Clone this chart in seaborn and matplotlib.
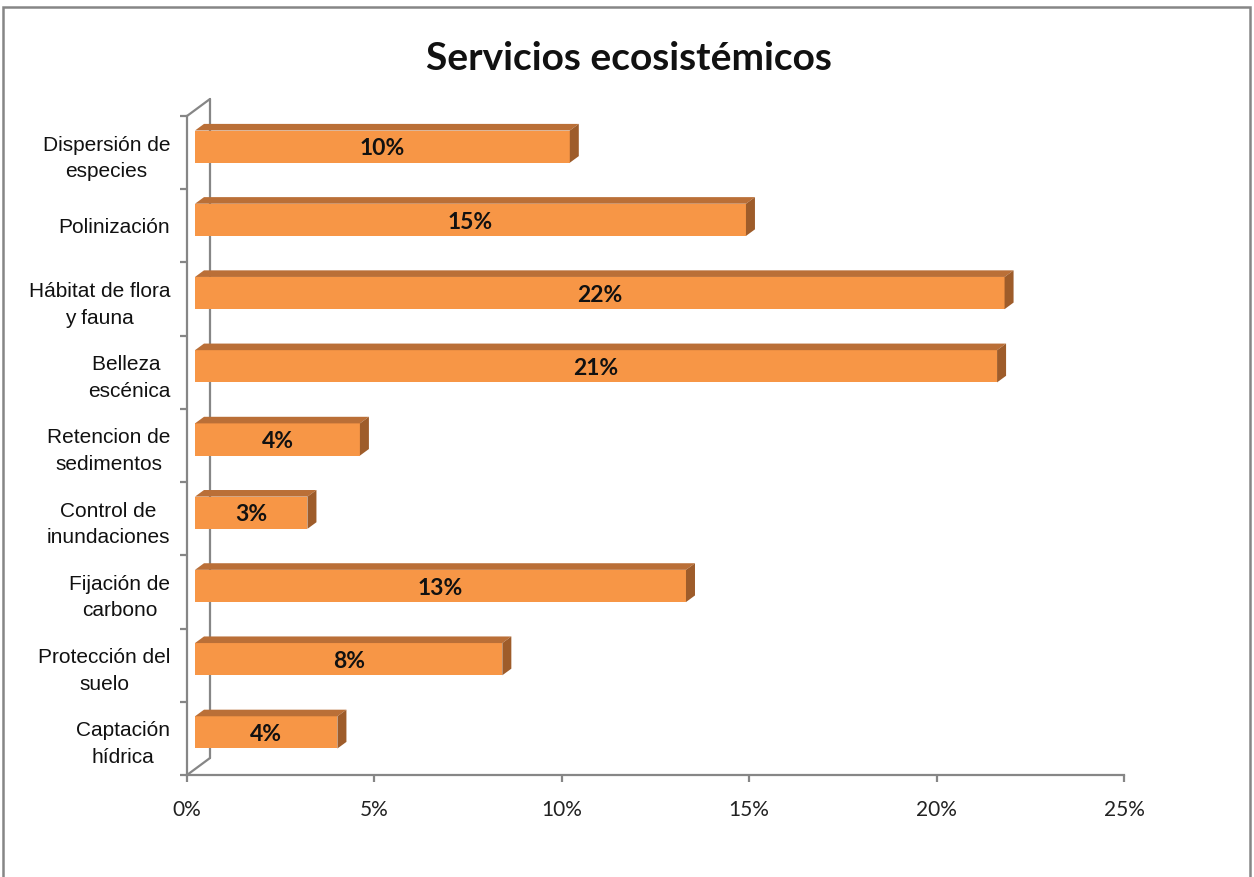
import numpy as np
import pandas as pd
import matplotlib
matplotlib.use("Agg")
import matplotlib.pyplot as plt
import seaborn as sns
from matplotlib.patches import Polygon, Rectangle
from matplotlib.lines import Line2D
from matplotlib.transforms import ScaledTranslation

categories = [
    "Dispersión de\nespecies", "Polinización", "Hábitat de flora\ny fauna",
    "Belleza \nescénica", "Retencion de\nsedimentos", "Control de\ninundaciones",
    "Fijación de\ncarbono", "Protección del\nsuelo", "Captación\nhídrica",
]
values = [10.0, 14.7, 21.6, 21.4, 4.4, 3.0, 13.1, 8.2, 3.8]
x_ticks = [0, 5, 10, 15, 20, 25]

FRONT = "#F79646"
TOP = "#BA6F37"
SIDE = "#9E5C2A"
AXIS = "#868686"

sns.set_theme(style="white")
plt.rcParams["font.family"] = ["Liberation Sans", "DejaVu Sans"]

fig = plt.figure(figsize=(12.54, 8.77), dpi=100)
ax = fig.add_axes([187 / 1254, 1 - 775 / 877, 937 / 1254, 659 / 877])

df = pd.DataFrame({"cat": categories, "val": values})
bar_w = 0.44
sns.barplot(data=df, x="val", y="cat", orient="h", color=FRONT, width=bar_w,
            saturation=1, ax=ax, zorder=3)

ax.set_xlim(0, 25)
ax.set_ylim(8.5, -0.5)

# shift bars into the middle of the 3d depth
shift = ax.transData + ScaledTranslation(0.08, 0.06, fig.dpi_scale_trans)
for p in ax.patches:
    p.set_transform(shift)
    p.set_edgecolor("none")

# pseudo 3d faces
dx = 9 / (937 / 25)
dy = 6.6 / (659 / 9)
for i, v in enumerate(values):
    y0 = i - bar_w / 2
    y1 = i + bar_w / 2
    top = Polygon([(0, y0), (v, y0), (v + dx, y0 - dy), (dx, y0 - dy)],
                  closed=True, facecolor=TOP, edgecolor="none", transform=shift, zorder=3)
    side = Polygon([(v, y0), (v + dx, y0 - dy), (v + dx, y1 - dy), (v, y1)],
                   closed=True, facecolor=SIDE, edgecolor="none", transform=shift, zorder=3)
    ax.add_patch(top)
    ax.add_patch(side)
    ax.text(v / 2, i + 0.03, f"{round(v):.0f}%", ha="center", va="center", fontsize=16.5,
            fontweight="bold", family="Lato", color="#111111", transform=shift, zorder=4)

# axes styling
sns.despine(ax=ax, top=True, right=True)
for s in ["left", "bottom"]:
    ax.spines[s].set_color(AXIS)
    ax.spines[s].set_linewidth(1.6)

ax.set_xticks(x_ticks)
ax.set_xticklabels([f"{t}%" for t in x_ticks], fontsize=15, family="Lato", color="#222222")
ax.set_yticks(np.arange(-0.5, 9, 1), minor=True)
ax.tick_params(axis="x", which="major", direction="out", length=5, width=1.6,
               color=AXIS, pad=13, bottom=True)
ax.tick_params(axis="y", which="major", length=0, pad=12, labelsize=15, labelcolor="#111111")
ax.tick_params(axis="y", which="minor", direction="out", length=5, width=1.6,
               color=AXIS, left=True)
for t in ax.get_yticklabels():
    t.set_multialignment("center")
    t.set_linespacing(1.5)
ax.set_xlabel("")
ax.set_ylabel("")

# back wall and depth lines
back = ax.transAxes + ScaledTranslation(0.23, 0.17, fig.dpi_scale_trans)
for yy in (0, 1):
    ax.add_line(Line2D([0, 0.23 / 9.37], [yy, yy + 0.17 / 6.59], transform=ax.transAxes,
                       color=AXIS, lw=1.6, clip_on=False))
ax.add_line(Line2D([0, 0], [0, 1], transform=back, color=AXIS, lw=1.6, clip_on=False))

fig.text(629 / 1254, 1 - 58 / 877, "Servicios ecosistémicos", ha="center", va="center",
         fontsize=28, fontweight="bold", family="Lato", color="#111111")

# outer chart frame
fig.add_artist(Rectangle((3 / 1254, -0.02), 1247 / 1254, 1.02 - 7 / 877,
                         transform=fig.transFigure, fill=False, edgecolor=AXIS, lw=1.8))

fig.savefig("out.png", dpi=100)
